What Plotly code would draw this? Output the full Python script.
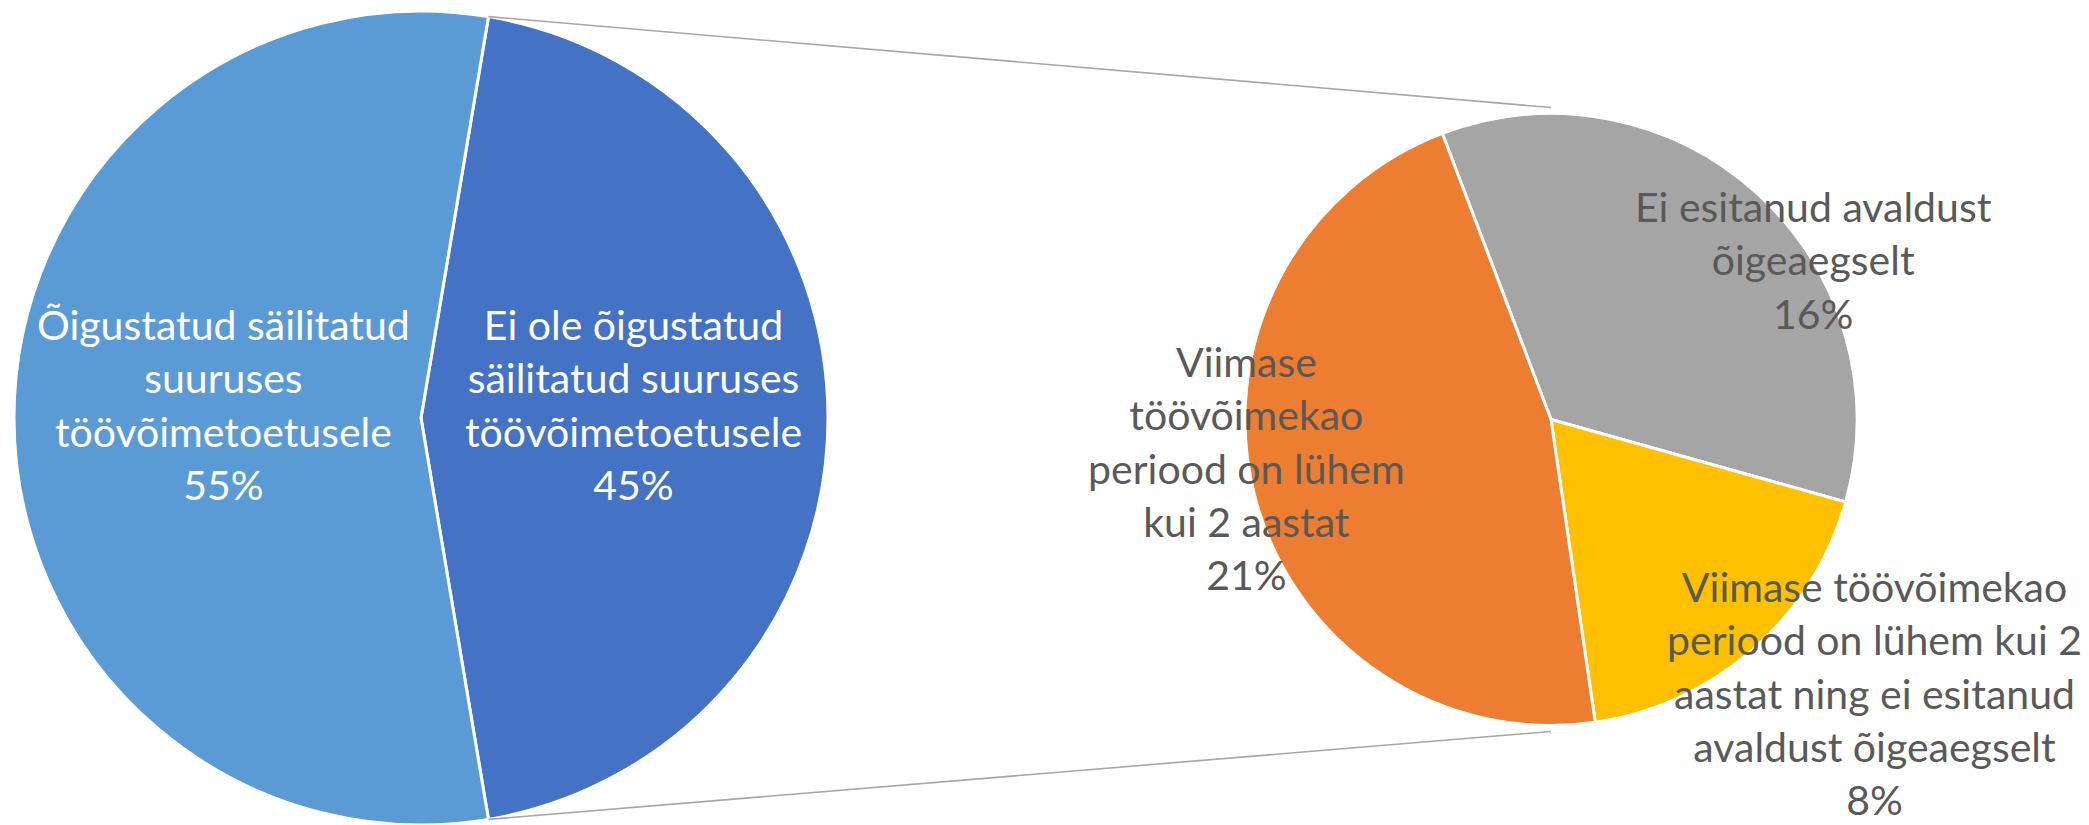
import math
import plotly.graph_objects as go

# ---- data ----
main_labels = ["Ei ole õigustatud<br>säilitatud suuruses<br>töövõimetoetusele",
               "Õigustatud säilitatud<br>suuruses<br>töövõimetoetusele"]
main_values = [44.7, 55.3]
main_colors = ["#4472C4", "#5B9BD5"]

sub_labels = ["Ei esitanud avaldust<br>õigeaegselt",
              "Viimase töövõimekao<br>periood on lühem kui 2<br>aastat ning ei esitanud<br>avaldust õigeaegselt",
              "Viimase<br>töövõimekao<br>periood on lühem<br>kui 2 aastat"]
sub_values = [15.7, 8.2, 20.8]
sub_colors = ["#A5A5A5", "#FFC000", "#ED7D31"]

W, H = 2089, 825
FONT = "Lato"
FS = 41

# geometry (pixels from top-left)
lcx, lcy, lr = 421, 418, 407
rcx, rcy, rr = 1551, 419.5, 306

def px(x):
    return x / W

def py(y):
    return 1 - y / H

split_share = main_values[0] / sum(main_values)
rot_left = 90 - split_share * 180

fig = go.Figure()
fig.add_trace(go.Pie(
    values=main_values, labels=[l.replace("<br>", " ") for l in main_labels],
    marker=dict(colors=main_colors, line=dict(color="white", width=3)),
    sort=False, direction="clockwise", rotation=rot_left,
    textinfo="none", showlegend=False,
    domain=dict(x=[px(lcx - lr), px(lcx + lr)], y=[py(lcy + lr), py(lcy - lr)]),
))

rot_right = -20.8
fig.add_trace(go.Pie(
    values=sub_values, labels=[l.replace("<br>", " ") for l in sub_labels],
    marker=dict(colors=sub_colors, line=dict(color="white", width=3)),
    sort=False, direction="clockwise", rotation=rot_right,
    textinfo="none", showlegend=False,
    domain=dict(x=[px(rcx - rr), px(rcx + rr)], y=[py(rcy + rr), py(rcy - rr)]),
))

# connector lines
a1 = math.radians(rot_left)
a2 = math.radians(rot_left + split_share * 360)
p_top = (lcx + lr * math.sin(a1), lcy - lr * math.cos(a1))
p_bot = (lcx + lr * math.sin(a2), lcy - lr * math.cos(a2))
for (sx, sy), (ex, ey) in [(p_top, (rcx, rcy - rr - 6)), (p_bot, (rcx, rcy + rr + 6))]:
    fig.add_shape(type="line", xref="paper", yref="paper",
                  x0=px(sx), y0=py(sy), x1=px(ex), y1=py(ey),
                  line=dict(color="#A6A6A6", width=1.6))

# labels
def pct(v):
    return f"{round(v)}%"

label_pos_main = [(633, 404), (223, 404)]
for lab, v, (x, y) in zip(main_labels, main_values, label_pos_main):
    fig.add_annotation(text=f"{lab}<br>{pct(v)}", x=px(x), y=py(y), xref="paper", yref="paper",
                       showarrow=False, xanchor="center", yanchor="middle", align="center",
                       font=dict(family=FONT, size=FS, color="white"))

label_pos_sub = [(1813, 260), (1874, 693), (1246, 468)]
for lab, v, (x, y) in zip(sub_labels, sub_values, label_pos_sub):
    fig.add_annotation(text=f"{lab}<br>{pct(v)}", x=px(x), y=py(y), xref="paper", yref="paper",
                       showarrow=False, xanchor="center", yanchor="middle", align="center",
                       font=dict(family=FONT, size=FS, color="#595959"))

fig.update_layout(width=W, height=H, margin=dict(l=0, r=0, t=0, b=0),
                  paper_bgcolor="white", plot_bgcolor="white", showlegend=False)

fig.write_html("out.html", config={"displayModeBar": False},
               post_script="document.body.style.margin='0';document.body.style.overflow='hidden';")
